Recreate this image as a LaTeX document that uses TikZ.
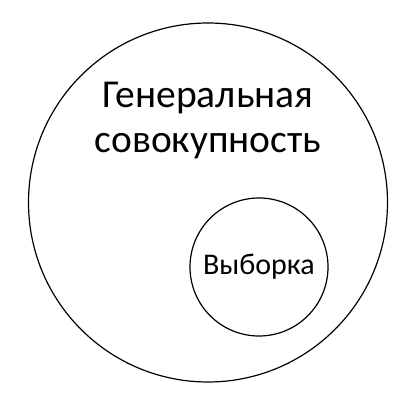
\documentclass[tikz,border=0pt]{standalone}
\usepackage{fontspec}
\setmainfont{Carlito}
\usetikzlibrary{positioning}

\begin{document}
\begin{tikzpicture}[
  x=1pt,y=1pt,
  set/.style={draw,circle,line width=1.2pt,inner sep=0pt},
  label/.style={align=center,font=\fontsize{39.5}{45}\selectfont}
]
\useasboundingbox (0,0) rectangle (412,404);
\node[set,minimum size=359pt] (population) at (208,201.5) {};
\node[label] (poptext) at (208,283) {Генеральная\\совокупность};
\node[set,minimum size=138pt,font=\fontsize{30}{36}\selectfont] (sample) at (259,137) {Выборка};
\end{tikzpicture}
\end{document}
